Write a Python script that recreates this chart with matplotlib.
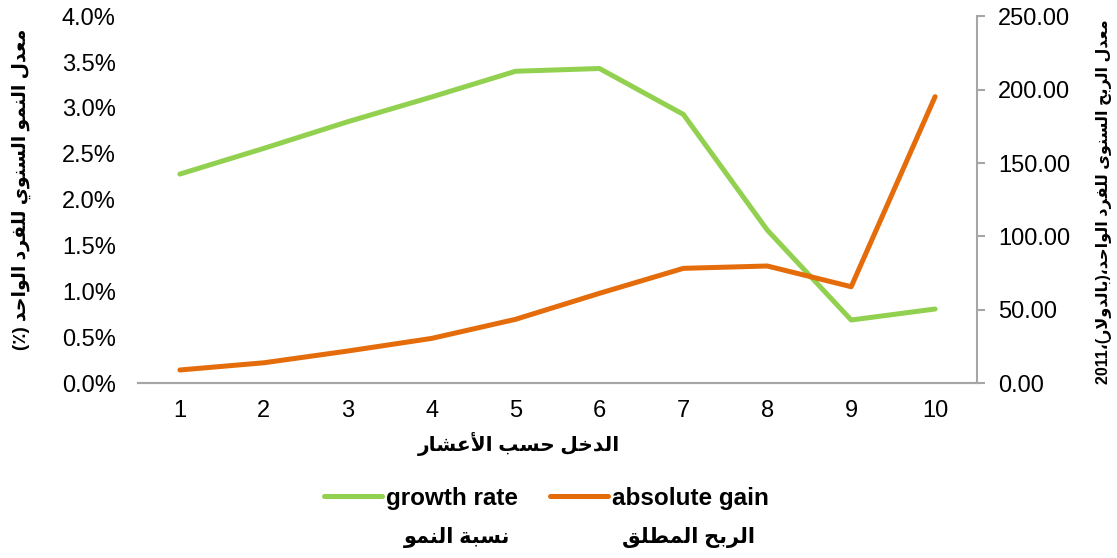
import matplotlib
matplotlib.use('Agg')
import matplotlib.pyplot as plt
from matplotlib.ticker import FuncFormatter

deciles = [1, 2, 3, 4, 5, 6, 7, 8, 9, 10]
growth_rate = [2.28, 2.56, 2.85, 3.12, 3.40, 3.43, 2.93, 1.67, 0.69, 0.81]   # %
absolute_gain = [9.1, 14.0, 22.0, 30.6, 43.6, 61.3, 78.3, 79.9, 65.8, 195.2]  # dollars

left_label = "معدل النمو السنوي للفرد الواحد (٪)"
right_label = "معدل الربح السنوى للفرد الواحد،(بالدولار)،"
x_label = "الدخل حسب الأعشار"
legend_ar = ["نسبة النمو", "الربح المطلق"]

# matplotlib has no arabic shaping -> do a minimal one by hand
DUAL = {'ب': 0xFE8F, 'ت': 0xFE95, 'ح': 0xFEA1, 'خ': 0xFEA5, 'س': 0xFEB1,
        'ش': 0xFEB5, 'ط': 0xFEC1, 'ع': 0xFEC9, 'ف': 0xFED1, 'ق': 0xFED5,
        'ل': 0xFEDD, 'م': 0xFEE1, 'ن': 0xFEE5, 'ي': 0xFEF1}
RIGHT = {'ا': 0xFE8D, 'أ': 0xFE83, 'د': 0xFEA9, 'ر': 0xFEAD, 'و': 0xFEED,
         'ة': 0xFE93, 'ى': 0xFEEF}
LAMALEF = {'ا': 0xFEFB, 'أ': 0xFEF7}


def shape(s):
    out = []
    skip = False
    for i, c in enumerate(s):
        if skip:
            skip = False
            continue
        p = s[i - 1] if i > 0 else ''
        n = s[i + 1] if i + 1 < len(s) else ''
        pj = p in DUAL
        if c == 'ل' and n in LAMALEF:
            out.append(chr(LAMALEF[n] + (1 if pj else 0)))
            skip = True
        elif c in DUAL:
            nj = n in DUAL or n in RIGHT
            out.append(chr(DUAL[c] + (3 if pj and nj else 2 if nj else 1 if pj else 0)))
        elif c in RIGHT:
            out.append(chr(RIGHT[c] + (1 if pj else 0)))
        else:
            out.append(c)
    vis = ''.join(reversed(out))
    return vis.translate(str.maketrans('()', ')('))


FONT = ['Liberation Sans', 'DejaVu Sans']
plt.rcParams['font.family'] = FONT

green = '#92D050'
orange = '#E46C0A'
grey = '#A6A6A6'

fig = plt.figure(figsize=(11.17, 5.58), dpi=100)
ax = fig.add_axes([0.1235, 0.313, 0.7512, 0.658])
ax2 = ax.twinx()

l1, = ax.plot(deciles, growth_rate, color=green, lw=3.6, solid_capstyle='round', label='growth rate')
l2, = ax2.plot(deciles, absolute_gain, color=orange, lw=3.6, solid_capstyle='round', label='absolute gain')

ax.set_xlim(0.5, 10.5)
ax.set_ylim(0, 4.0)
ax.set_yticks([0, 0.5, 1, 1.5, 2, 2.5, 3, 3.5, 4])
ax.yaxis.set_major_formatter(FuncFormatter(lambda v, _: f'{v:.1f}%'))
ax2.set_ylim(0, 250)
ax2.set_yticks(range(0, 251, 50))
ax2.yaxis.set_major_formatter(FuncFormatter(lambda v, _: f'{v:.2f}'))
ax.set_xticks(deciles)

for a in (ax, ax2):
    a.spines['top'].set_visible(False)
    a.spines['left'].set_visible(False)
    a.spines['right'].set_visible(False)
    a.spines['bottom'].set_color(grey)
    a.spines['bottom'].set_linewidth(1.5)
ax2.spines['right'].set_visible(True)
ax2.spines['right'].set_color(grey)
ax2.spines['right'].set_linewidth(1.5)

ax.tick_params(axis='y', length=0, pad=16, labelsize=17)
ax.tick_params(axis='x', length=0, pad=12, labelsize=17)
ax2.tick_params(axis='y', length=6, width=1.5, color=grey, pad=9, labelsize=17)

fig.text(0.4647, 0.205, shape(x_label), ha='center', va='center',
         fontsize=14.5, fontweight='bold', family=FONT)
fig.text(0.019, 0.66, shape(left_label), rotation=90, ha='center', va='center',
         fontsize=13.5, fontweight='bold', family=FONT)
fig.text(0.988, 0.638, '2011' + shape(right_label), rotation=90, ha='center', va='center',
         fontsize=11.5, fontweight='bold', family=FONT)

fig.legend(handles=[l1, l2], loc='center', bbox_to_anchor=(0.489, 0.1075), ncol=2,
           frameon=False, handlelength=2.4, handletextpad=0.15, columnspacing=1.3,
           prop={'size': 17.5, 'weight': 'bold', 'family': FONT})
fig.text(0.409, 0.0376, shape(legend_ar[0]), ha='center', va='center',
         fontsize=15, fontweight='bold', family=FONT)
fig.text(0.616, 0.0376, shape(legend_ar[1]), ha='center', va='center',
         fontsize=15, fontweight='bold', family=FONT)

fig.savefig('out.png', dpi=100)
